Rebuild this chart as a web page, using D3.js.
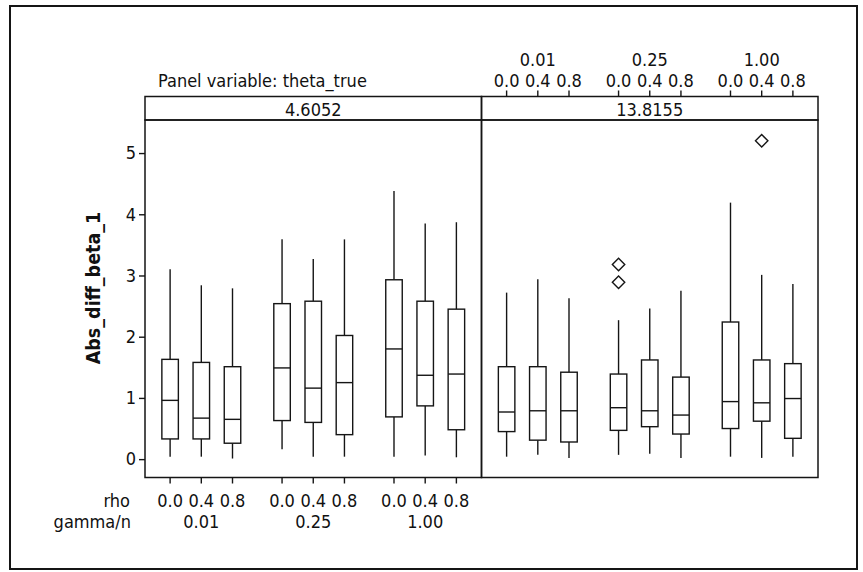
<!DOCTYPE html>
<html>
<head>
<meta charset="utf-8">
<script src="https://cdn.jsdelivr.net/npm/d3@7"></script>
<style>
  body { margin: 0; background: #fff; }
  svg { display: block; }
  text { font-family: "DejaVu Sans Condensed", "Liberation Sans", sans-serif; fill: #111; }
</style>
</head>
<body>
<svg id="chart" width="863" height="572"></svg>
<script>
// Panels (theta_true) and the two nested categorical factors
const panels = ["4.6052", "13.8155"];
const gammaLevels = ["0.01", "0.25", "1.00"];
const rhoLevels = ["0.0", "0.4", "0.8"];
const yTicks = [0, 1, 2, 3, 4, 5];

// Box summaries, ordered gamma/n (outer) by rho (inner)
const whiskerLow_4605 = [0.04, 0.04, 0.01, 0.16, 0.04, 0.04, 0.04, 0.06, 0.03];
const q1_4605         = [0.33, 0.33, 0.26, 0.63, 0.60, 0.40, 0.69, 0.87, 0.48];
const median_4605     = [0.96, 0.67, 0.65, 1.49, 1.16, 1.25, 1.80, 1.37, 1.39];
const q3_4605         = [1.63, 1.58, 1.51, 2.54, 2.58, 2.02, 2.93, 2.58, 2.45];
const whiskerHigh_4605= [3.10, 2.84, 2.79, 3.59, 3.27, 3.59, 4.38, 3.85, 3.87];

const whiskerLow_13815 = [0.04, 0.07, 0.02, 0.07, 0.09, 0.02, 0.04, 0.02, 0.04];
const q1_13815         = [0.45, 0.31, 0.28, 0.47, 0.53, 0.41, 0.50, 0.62, 0.34];
const median_13815     = [0.77, 0.79, 0.79, 0.84, 0.79, 0.72, 0.94, 0.92, 0.99];
const q3_13815         = [1.51, 1.51, 1.42, 1.39, 1.62, 1.34, 2.24, 1.62, 1.56];
const whiskerHigh_13815= [2.72, 2.94, 2.63, 2.27, 2.46, 2.75, 4.19, 3.01, 2.86];

// Outlying observations: [panel, gamma/n, rho, value]
const outliers = [
  ["13.8155", "0.25", "0.0", 3.18],
  ["13.8155", "0.25", "0.0", 2.89],
  ["13.8155", "1.00", "0.4", 5.20]
];

const summaries = {
  "4.6052":  { low: whiskerLow_4605,  q1: q1_4605,  med: median_4605,  q3: q3_4605,  high: whiskerHigh_4605 },
  "13.8155": { low: whiskerLow_13815, q1: q1_13815, med: median_13815, q3: q3_13815, high: whiskerHigh_13815 }
};

const svg = d3.select("#chart");
const ink = "#151515";
const fs = 18;
const fontStack = '"DejaVu Sans Condensed", "Liberation Sans", sans-serif';

const plotLeft = 145, plotRight = 818;
const stripTop = 96.5, plotTop = 120, plotBottom = 477.5;

const panelX = d3.scaleBand().domain(panels).range([plotLeft, plotRight]);
const groupX = d3.scaleBand().domain(gammaLevels).range([0, panelX.bandwidth()])
  .paddingInner(0.164).paddingOuter(0.085);
const rhoX = d3.scalePoint().domain(rhoLevels).range([0, groupX.bandwidth()]).padding(0.5);
const y = d3.scaleLinear().domain([-0.3, 5.54]).range([plotBottom, plotTop]);

const xPos = (p, g, r) => panelX(p) + groupX(g) + rhoX(r);

// Build per-box records
const boxes = [];
panels.forEach(p => {
  const s = summaries[p];
  gammaLevels.forEach((g, gi) => rhoLevels.forEach((r, ri) => {
    const k = gi * rhoLevels.length + ri;
    boxes.push({ p, g, r, low: s.low[k], q1: s.q1[k], med: s.med[k], q3: s.q3[k], high: s.high[k] });
  }));
});

// Outer frame
svg.append("rect").attr("x", 10).attr("y", 6).attr("width", 847).attr("height", 563)
  .attr("fill", "none").attr("stroke", ink).attr("stroke-width", 2);

// Boxes
const boxW = 16.5;
const bg = svg.append("g").attr("stroke", ink).attr("stroke-width", 1.4);
const bx = bg.selectAll("g.box").data(boxes).join("g").attr("class", "box")
  .attr("transform", d => `translate(${xPos(d.p, d.g, d.r)},0)`);
bx.append("line").attr("y1", d => y(d.high)).attr("y2", d => y(d.q3));
bx.append("line").attr("y1", d => y(d.q1)).attr("y2", d => y(d.low));
bx.append("rect").attr("x", -boxW / 2).attr("width", boxW)
  .attr("y", d => y(d.q3)).attr("height", d => y(d.q1) - y(d.q3)).attr("fill", "#fff");
bx.append("line").attr("x1", -boxW / 2).attr("x2", boxW / 2)
  .attr("y1", d => y(d.med)).attr("y2", d => y(d.med));

// Outlier diamonds
const dm = 6.2;
svg.append("g").selectAll("path").data(outliers).join("path")
  .attr("transform", d => `translate(${xPos(d[0], d[1], d[2])},${y(d[3])})`)
  .attr("d", `M0,${-dm}L${dm},0L0,${dm}L${-dm},0Z`)
  .attr("fill", "none").attr("stroke", ink).attr("stroke-width", 1.4);

// Panel frames and strips
panels.forEach(p => {
  svg.append("rect").attr("x", panelX(p)).attr("y", plotTop)
    .attr("width", panelX.bandwidth()).attr("height", plotBottom - plotTop)
    .attr("fill", "none").attr("stroke", ink).attr("stroke-width", 1.5);
  svg.append("rect").attr("x", panelX(p)).attr("y", stripTop)
    .attr("width", panelX.bandwidth()).attr("height", plotTop - stripTop)
    .attr("fill", "none").attr("stroke", ink).attr("stroke-width", 1.5);
  svg.append("text").attr("x", panelX(p) + panelX.bandwidth() / 2).attr("y", (stripTop + plotTop) / 2 + 1)
    .attr("text-anchor", "middle").attr("dominant-baseline", "central")
    .attr("font-size", fs).text(p);
});

// Y axis
const yAxis = svg.append("g").attr("transform", `translate(${plotLeft},0)`)
  .call(d3.axisLeft(y).tickValues(yTicks).tickFormat(d3.format("d")).tickSize(6).tickPadding(3));
yAxis.select(".domain").remove();
yAxis.selectAll("line").attr("stroke", ink).attr("stroke-width", 1.4);
yAxis.selectAll("text").attr("font-size", fs).attr("fill", ink).style("font-family", fontStack);

svg.append("text")
  .attr("transform", `translate(93,288) rotate(-90)`)
  .attr("text-anchor", "middle").attr("dominant-baseline", "central")
  .attr("font-size", 19.5).attr("font-weight", "bold").text("Abs_diff_beta_1");

// Category ticks: bottom of the left panel, top of the right panel
const cats = [];
gammaLevels.forEach(g => rhoLevels.forEach(r => cats.push({ g, r })));

const bottomG = svg.append("g");
bottomG.selectAll("line").data(cats).join("line")
  .attr("x1", d => xPos(panels[0], d.g, d.r)).attr("x2", d => xPos(panels[0], d.g, d.r))
  .attr("y1", plotBottom).attr("y2", plotBottom + 6)
  .attr("stroke", ink).attr("stroke-width", 1.4);
bottomG.selectAll("text.rho").data(cats).join("text").attr("class", "rho")
  .attr("x", d => xPos(panels[0], d.g, d.r)).attr("y", 500)
  .attr("text-anchor", "middle").attr("dominant-baseline", "central")
  .attr("font-size", fs).text(d => d.r);
bottomG.selectAll("text.gam").data(gammaLevels).join("text").attr("class", "gam")
  .attr("x", g => xPos(panels[0], g, rhoLevels[1])).attr("y", 521.5)
  .attr("text-anchor", "middle").attr("dominant-baseline", "central")
  .attr("font-size", fs).text(g => g);
svg.append("text").attr("x", 130).attr("y", 500).attr("text-anchor", "end")
  .attr("dominant-baseline", "central").attr("font-size", fs).text("rho");
svg.append("text").attr("x", 131).attr("y", 521.5).attr("text-anchor", "end")
  .attr("dominant-baseline", "central").attr("font-size", fs).text("gamma/n");

const topG = svg.append("g");
topG.selectAll("line").data(cats).join("line")
  .attr("x1", d => xPos(panels[1], d.g, d.r)).attr("x2", d => xPos(panels[1], d.g, d.r))
  .attr("y1", stripTop).attr("y2", stripTop - 6)
  .attr("stroke", ink).attr("stroke-width", 1.4);
topG.selectAll("text.rho").data(cats).join("text").attr("class", "rho")
  .attr("x", d => xPos(panels[1], d.g, d.r)).attr("y", 80.5)
  .attr("text-anchor", "middle").attr("dominant-baseline", "central")
  .attr("font-size", fs).text(d => d.r);
topG.selectAll("text.gam").data(gammaLevels).join("text").attr("class", "gam")
  .attr("x", g => xPos(panels[1], g, rhoLevels[1])).attr("y", 59.5)
  .attr("text-anchor", "middle").attr("dominant-baseline", "central")
  .attr("font-size", fs).text(g => g);

// Panel variable caption
svg.append("text").attr("x", 158).attr("y", 80.5).attr("dominant-baseline", "central")
  .attr("font-size", fs).text("Panel variable: theta_true");
</script>
</body>
</html>
